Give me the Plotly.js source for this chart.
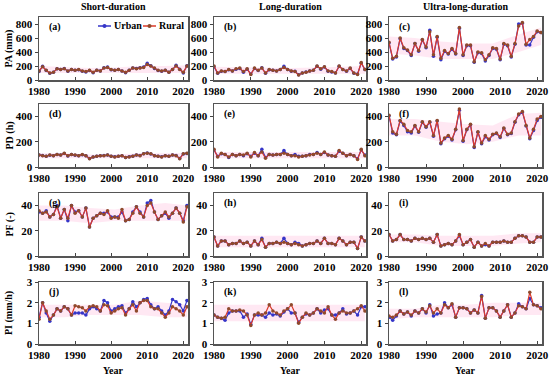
<!DOCTYPE html>
<html><head><meta charset="utf-8">
<script src="https://cdn.plot.ly/plotly-3.0.1.min.js"></script>
<style>html,body{margin:0;padding:0;background:#fff}#c{width:550px;height:379px}</style>
</head><body><div id="c"></div>
<script>
const years = [];
for (let y = 1980; y <= 2021; y++) years.push(y);

// (a) PA short-duration
const paShortRural = [130,190,140,100,110,160,150,160,130,150,140,150,130,120,140,110,140,130,170,180,150,140,150,130,110,140,170,160,170,180,220,200,170,140,130,140,110,150,200,150,110,200];
const paShortUrban = [120,195,135,95,110,160,150,165,125,150,140,145,125,115,135,105,140,130,175,185,145,140,150,130,105,140,170,165,175,185,240,205,165,135,125,140,110,150,210,155,100,205];
// (b) PA long-duration
const paLongRural = [200,100,130,120,150,130,160,170,120,160,80,170,140,170,100,150,140,130,150,180,150,130,120,70,100,110,130,140,200,160,190,130,120,100,200,150,130,170,100,80,250,150];
const paLongUrban = [190,95,125,120,145,130,155,165,110,155,85,165,135,175,95,145,140,130,150,195,150,125,125,75,100,115,130,140,195,155,185,125,115,100,195,150,125,165,95,85,240,150];
// (c) PA ultra-long-duration
const paUltraRural = [540,310,340,600,460,430,360,520,420,580,470,690,360,620,310,420,380,450,380,750,360,500,500,260,400,390,290,360,460,450,300,520,500,340,520,770,820,510,580,620,700,680];
const paUltraUrban = [530,300,330,590,450,420,350,520,410,570,460,710,340,610,290,410,370,440,370,740,350,490,490,255,390,380,270,350,450,440,290,510,490,330,510,800,810,500,500,610,690,680];
// (d) PD short-duration
const pdShortRural = [95,90,85,95,90,100,95,110,90,100,95,90,100,90,65,80,85,90,90,95,85,80,85,90,75,80,85,95,90,105,110,105,90,85,80,90,85,95,90,65,105,110];
const pdShortUrban = [95,92,85,93,90,100,95,108,88,100,93,90,98,90,68,80,86,90,92,95,86,82,86,90,76,82,86,96,92,106,112,104,90,86,82,90,86,96,92,68,104,108];
// (e) PD long-duration
const pdLongRural = [140,80,110,100,80,100,90,100,95,110,80,115,90,120,70,100,95,100,100,110,100,90,90,80,85,90,95,100,110,100,120,95,90,85,130,110,90,100,90,60,140,90];
const pdLongUrban = [135,85,105,100,75,100,90,100,90,105,85,110,90,140,75,100,95,100,100,130,100,90,100,85,85,90,100,100,115,100,115,95,90,85,125,110,90,100,90,65,135,95];
// (f) PD ultra-long-duration
const pdUltraRural = [410,280,260,370,340,290,280,330,280,360,320,360,250,370,190,230,250,220,300,460,210,300,340,160,280,190,250,220,260,270,240,310,260,270,360,420,440,330,230,300,380,400];
const pdUltraUrban = [405,270,255,365,330,280,270,325,275,355,315,355,245,365,185,225,245,215,295,450,205,295,335,155,275,185,240,215,255,265,235,305,255,265,355,415,435,325,225,290,370,395];
// (g) PF short-duration
const pfShortRural = [36,34,35,31,33,39,30,37,30,40,34,36,31,38,23,30,32,34,33,36,30,31,30,37,28,29,34,39,34,31,40,42,35,29,32,35,31,34,38,34,27,39];
const pfShortUrban = [35,34,36,31,33,40,30,37,28,40,35,36,31,38,23,30,32,34,34,35,31,31,31,35,28,29,35,39,35,31,42,44,35,29,32,34,30,34,38,34,28,40];
// (h) PF long-duration
const pfLongRural = [15,8,12,12,9,10,10,12,10,11,8,12,9,13,7,10,10,11,10,11,10,9,10,9,8,9,10,10,12,10,14,10,10,9,14,12,9,11,11,6,15,12];
const pfLongUrban = [15,8,12,12,9,10,10,12,10,11,8,12,9,14,7,10,10,11,10,14,10,9,11,10,8,9,10,10,12,10,14,10,10,9,14,12,9,11,11,6,15,12];
// (i) PF ultra-long-duration
const pfUltraRural = [17,12,13,17,13,13,12,14,13,14,13,14,11,17,8,9,10,9,12,17,9,11,13,7,11,8,10,8,11,11,11,12,11,11,14,16,16,15,11,11,15,15];
const pfUltraUrban = [17,12,13,17,13,13,12,14,13,14,13,14,11,17,8,9,10,9,12,16,9,11,13,7,11,8,9,8,11,11,11,12,11,11,14,16,16,15,11,11,15,15];
// (j) PI short-duration
const piShortRural = [1.2,2.0,1.6,1.2,1.4,1.7,1.6,1.8,1.7,1.4,1.85,1.8,1.75,1.6,1.8,1.85,1.8,1.6,1.9,1.85,1.5,1.6,1.7,1.75,1.4,1.7,1.9,1.6,2.0,2.1,2.1,1.8,1.7,1.7,1.5,1.3,1.5,1.8,1.7,1.6,1.4,1.8];
const piShortUrban = [1.3,2.0,1.5,1.1,1.4,1.7,1.6,1.8,1.7,1.4,1.5,1.5,1.5,1.4,1.7,1.8,1.7,1.6,2.1,2.0,1.6,1.7,1.8,1.85,1.5,1.7,2.05,1.8,2.0,2.15,2.2,1.9,1.7,1.8,1.6,1.4,1.6,2.15,2.05,1.9,1.6,2.1];
// (k) PI long-duration
const piLongRural = [1.4,1.3,1.25,1.3,1.7,1.6,1.6,1.65,1.6,1.4,0.9,1.4,1.5,1.4,1.5,1.9,1.6,1.5,1.4,1.6,1.7,1.9,1.5,1.0,1.3,1.5,1.4,1.5,1.7,1.6,1.5,1.8,1.4,1.2,1.5,1.6,1.5,1.5,1.6,1.7,1.85,1.6];
const piLongUrban = [1.4,1.3,1.25,1.15,1.5,1.6,1.6,1.6,1.3,1.45,0.95,1.4,1.4,1.4,1.3,1.5,1.4,1.45,1.35,1.55,1.7,1.5,1.5,1.05,1.3,1.45,1.4,1.5,1.7,1.5,1.65,1.7,1.4,1.4,1.5,1.7,1.45,1.5,1.6,1.4,1.8,1.8];
// (l) PI ultra-long-duration
const piUltraRural = [1.35,1.3,1.4,1.6,1.45,1.55,1.4,1.6,1.5,1.7,1.55,1.85,1.5,1.7,1.5,1.9,1.75,1.95,1.3,1.75,1.75,1.7,1.5,1.65,1.5,2.3,1.25,1.75,1.75,1.6,1.3,1.6,1.9,1.3,1.5,1.85,1.8,1.7,2.5,1.9,1.85,1.7];
const piUltraUrban = [1.3,1.15,1.35,1.6,1.45,1.55,1.35,1.6,1.5,1.7,1.5,1.9,1.35,1.45,1.5,2.0,1.75,1.9,1.3,1.75,1.75,1.7,1.5,1.65,1.5,2.35,1.25,1.75,1.75,1.6,1.3,1.6,1.9,1.3,1.5,1.95,1.8,1.7,2.2,1.9,1.85,1.75];

// pink band (knot years, lower, upper per panel)
const bandYears = [1980,1987,1994,2001,2008,2015,2021];
const bandLo = {
  a:[100,100,100,100,110,100,100], b:[90,90,90,80,80,90,90], c:[380,350,300,300,300,400,500],
  d:[70,70,65,65,70,70,70], e:[70,70,70,70,70,70,70], f:[250,250,200,180,200,250,250],
  g:[28,28,26,28,28,28,28], h:[7,7,7,7,7,7,7], i:[11,11,8,8,8,10,11],
  j:[1.3,1.3,1.4,1.4,1.4,1.3,1.3], k:[1.1,1.1,1.1,1.1,1.1,1.1,1.1], l:[1.2,1.3,1.3,1.3,1.3,1.4,1.4]};
const bandHi = {
  a:[200,190,170,180,200,200,210], b:[190,180,170,170,180,190,200], c:[620,600,550,520,520,650,750],
  d:[110,110,100,100,110,110,110], e:[120,120,120,115,115,120,120], f:[380,380,360,340,330,420,430],
  g:[40,40,38,37,40,42,40], h:[16,16,16,16,16,16,16], i:[17,17,16,16,16,18,18],
  j:[1.9,1.9,1.9,1.9,2.1,2.0,1.9], k:[1.9,1.9,1.9,1.9,1.9,1.9,1.9], l:[1.7,1.7,1.9,1.9,2.0,2.0,2.0]};

const seriesNames = ['Urban','Rural'];

const panels = [
  {id:'a', rural:paShortRural, urban:paShortUrban, row:0, col:0, ymax:900, dtick:200},
  {id:'b', rural:paLongRural, urban:paLongUrban, row:0, col:1, ymax:900, dtick:200},
  {id:'c', rural:paUltraRural, urban:paUltraUrban, row:0, col:2, ymax:900, dtick:200},
  {id:'d', rural:pdShortRural, urban:pdShortUrban, row:1, col:0, ymax:500, dtick:200},
  {id:'e', rural:pdLongRural, urban:pdLongUrban, row:1, col:1, ymax:500, dtick:200},
  {id:'f', rural:pdUltraRural, urban:pdUltraUrban, row:1, col:2, ymax:500, dtick:200},
  {id:'g', rural:pfShortRural, urban:pfShortUrban, row:2, col:0, ymax:50, dtick:20},
  {id:'h', rural:pfLongRural, urban:pfLongUrban, row:2, col:1, ymax:50, dtick:20},
  {id:'i', rural:pfUltraRural, urban:pfUltraUrban, row:2, col:2, ymax:50, dtick:20},
  {id:'j', rural:piShortRural, urban:piShortUrban, row:3, col:0, ymax:3, dtick:1},
  {id:'k', rural:piLongRural, urban:piLongUrban, row:3, col:1, ymax:3, dtick:1},
  {id:'l', rural:piUltraRural, urban:piUltraUrban, row:3, col:2, ymax:3, dtick:1}
];
const colTitles = ['Short-duration','Long-duration','Ultra-long-duration'];
const rowTitles = ['PA (mm)','PD (h)','PF (-)','PI (mm/h)'];

const W = 550, H = 379;
const colPx = [[39,188],[214,366],[389,542]];
const rowPx = [[17,80],[104,167],[193,256],[282,344]];
const FAM = 'Liberation Serif, Times New Roman, serif';
const tf = {family:FAM, size:11, weight:'bold', color:'#000'};
const lf = {family:FAM, size:10, weight:'bold', color:'#000'};
const URBAN = '#3535c8', RURAL = '#dc3a2a', RURALM = '#8e4a2c';

const traces = [];
const layout = {
  width: W, height: H, margin:{l:0,r:0,t:0,b:0},
  paper_bgcolor:'#fff', plot_bgcolor:'#fff', font: tf,
  showlegend: false,
  annotations: [], shapes: []
};

panels.forEach((p, i) => {
  const n = i + 1;
  const xa = 'x' + (n === 1 ? '' : n), ya = 'y' + (n === 1 ? '' : n);
  const xk = 'xaxis' + (n === 1 ? '' : n), yk = 'yaxis' + (n === 1 ? '' : n);
  const cx = colPx[p.col], ry = rowPx[p.row];
  layout[xk] = {
    domain:[cx[0]/W, cx[1]/W], anchor: ya, range:[1980, 2021.3],
    tickvals:[1980,1990,2000,2010,2020], ticks:'inside', ticklen:3, tickcolor:'#444',
    showline:true, mirror:true, linecolor:'#555', linewidth:1.5, showgrid:false, zeroline:false,
    tickfont:tf
  };
  layout[yk] = {
    domain:[1 - ry[1]/H, 1 - ry[0]/H], anchor: xa, range:[0, p.ymax], dtick:p.dtick,
    ticks:'outside', ticklen:3, tickcolor:'#444',
    showline:true, mirror:true, linecolor:'#555', linewidth:1.5, showgrid:false, zeroline:false,
    tickfont:tf
  };
  traces.push({x:bandYears, y:bandLo[p.id], xaxis:xa, yaxis:ya, mode:'lines', line:{width:0, color:'rgba(0,0,0,0)'}, hoverinfo:'skip'});
  traces.push({x:bandYears, y:bandHi[p.id], xaxis:xa, yaxis:ya, mode:'lines', line:{width:0, color:'rgba(0,0,0,0)'}, fill:'tonexty', fillcolor:'rgba(255,190,220,0.35)', hoverinfo:'skip'});
  traces.push({x:years, y:p.urban, xaxis:xa, yaxis:ya, name:seriesNames[0], mode:'lines+markers',
    line:{color:URBAN, width:1.2}, marker:{color:URBAN, size:3.5, symbol:'circle'}});
  traces.push({x:years, y:p.rural, xaxis:xa, yaxis:ya, name:seriesNames[1], mode:'lines+markers',
    line:{color:RURAL, width:1.2}, marker:{color:RURALM, size:3.5, symbol:'circle'}});
  layout.annotations.push({text:'(' + p.id + ')', xref:'paper', yref:'paper',
    x:(cx[0]+8)/W, y:1-(ry[0]+2)/H, xanchor:'left', yanchor:'top', showarrow:false,
    font:{family:FAM, size:10, weight:'bold', color:'#000'}});
});

// compact legend in panel (a)
const legItems = [{name:seriesNames[0], line:URBAN, mk:URBAN, x0:98}, {name:seriesNames[1], line:RURAL, mk:RURALM, x0:143}];
const legY = 1 - 26/H;
legItems.forEach(it => {
  layout.shapes.push({type:'line', xref:'paper', yref:'paper', x0:it.x0/W, x1:(it.x0+13)/W, y0:legY, y1:legY, line:{color:it.line, width:1.5}});
  layout.shapes.push({type:'circle', xref:'paper', yref:'paper', x0:(it.x0+4.5)/W, x1:(it.x0+8.5)/W, y0:legY-2/H, y1:legY+2/H, fillcolor:it.mk, line:{color:it.mk, width:0}});
  layout.annotations.push({text:it.name, xref:'paper', yref:'paper', x:(it.x0+14)/W, y:legY, xanchor:'left', yanchor:'middle',
    showarrow:false, font:lf});
});

colTitles.forEach((t, c) => {
  layout.annotations.push({text:t, xref:'paper', yref:'paper', x:(colPx[c][0]+colPx[c][1])/2/W, y:1-6/H,
    xanchor:'center', yanchor:'middle', showarrow:false, font:lf});
  layout.annotations.push({text:'Year', xref:'paper', yref:'paper', x:(colPx[c][0]+colPx[c][1])/2/W, y:1-370/H,
    xanchor:'center', yanchor:'middle', showarrow:false, font:lf});
});
rowTitles.forEach((t, r) => {
  layout.annotations.push({text:t, xref:'paper', yref:'paper', x:9/W, y:1-(rowPx[r][0]+rowPx[r][1])/2/H,
    xanchor:'center', yanchor:'middle', textangle:-90, showarrow:false, font:lf});
});

Plotly.newPlot('c', traces, layout, {displayModeBar:false, staticPlot:true});
</script>
</body></html>
